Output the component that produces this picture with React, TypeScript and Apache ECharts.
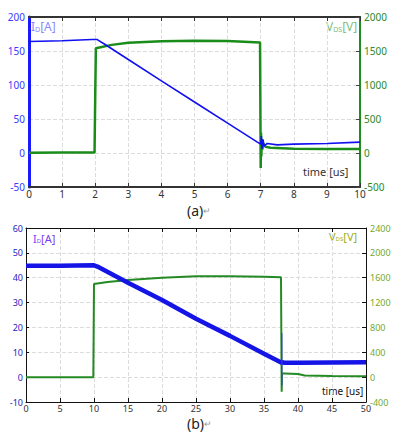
import React, { useEffect, useRef } from "react";
import * as echarts from "echarts";

// ---- Data: chart (a) ----
const xTicksA = { min: 0, max: 10, interval: 1 };
const tI_a = [0, 1, 1.9, 2.05, 2.3, 3, 4, 5, 6, 6.9, 7.0, 7.02, 7.04, 7.07, 7.1, 7.2, 7.5, 8, 9, 10];
const iD_a = [164, 165, 167, 167, 159.5, 137.5, 106, 75, 44, 16, 13, 25, 6, 20, 10, 14, 12, 13, 14, 16];
const tV_a = [0, 1, 1.98, 2.0, 2.02, 2.5, 3, 4, 5, 6, 6.98, 7.0, 7.01, 7.02, 7.03, 7.05, 7.08, 7.15, 7.3, 8, 9, 10];
const vDS_a = [5, 8, 6, 800, 1540, 1590, 1620, 1645, 1650, 1648, 1625, -220, 300, -50, 200, 50, 140, 90, 78, 62, 58, 58];

// ---- Data: chart (b) ----
const tI_b = [0, 5, 10, 10.5, 15, 20, 25, 30, 35, 37.6, 37.7, 38, 40, 45, 50];
const iD_b = [44.8, 44.8, 45, 44.5, 38, 31, 23.5, 16.6, 9.4, 5.8, 6, 5.8, 5.8, 5.9, 6];
const tSpike_b = [37.62, 37.62];
const iSpike_b = [17.8, -3.5];
const tV_b = [0, 5, 9.9, 10, 10.1, 12, 15, 20, 25, 30, 35, 37.5, 37.6, 37.65, 37.7, 38, 40, 41, 45, 50];
const vDS_b = [0, 0, 0, 1500, 1500, 1530, 1563, 1600, 1622, 1625, 1617, 1606, -234, 60, 62, 60, 50, 28, 18, 14];

const FONT = "Noto Sans";
const pairs = (t: number[], v: number[]) => t.map((x, i) => [x, v[i]]);
const plain = (v: number) => String(v);

export default function App() {
  const ref = useRef<HTMLDivElement>(null);
  useEffect(() => {
    const chart = echarts.init(ref.current!, null, { renderer: "svg" });
    const split = { show: true, lineStyle: { type: "dashed", color: "#dcdcdc", width: 1 } };
    const xBase = (grid: number, min: number, max: number, interval: number, lw: number, color: string, fs: number) => [
      {
        type: "value", gridIndex: grid, min, max, interval, position: "bottom",
        axisLine: { show: true, onZero: false, lineStyle: { color, width: lw } },
        axisTick: { show: true, inside: true, length: 4, lineStyle: { color } },
        axisLabel: { color: "#333", fontSize: fs, fontFamily: FONT, margin: 2, formatter: plain },
        splitLine: split,
      },
      {
        type: "value", gridIndex: grid, min, max, interval, position: "top",
        axisLine: { show: true, onZero: false, lineStyle: { color, width: lw } },
        axisTick: { show: true, inside: true, length: 4, lineStyle: { color } },
        axisLabel: { show: false },
        splitLine: { show: false },
      },
    ];
    chart.setOption({
      animation: false,
      grid: [
        { left: 29, right: 36, top: 17, height: 170 },
        { left: 26, right: 30, top: 228, height: 174 },
      ],
      xAxis: [
        ...xBase(0, xTicksA.min, xTicksA.max, xTicksA.interval, 2, "#333", 10),
        ...xBase(1, 0, 50, 5, 1, "#111", 9),
      ],
      yAxis: [
        {
          type: "value", gridIndex: 0, min: -50, max: 200, interval: 50, position: "left",
          axisLine: { show: true, onZero: false, lineStyle: { color: "#1a1aff", width: 3 } },
          axisTick: { show: false },
          axisLabel: { color: "#3b3bff", fontSize: 10, fontFamily: FONT, margin: 4, formatter: plain },
          splitLine: split,
        },
        {
          type: "value", gridIndex: 0, min: -500, max: 2000, interval: 500, position: "right",
          axisLine: { show: true, onZero: false, lineStyle: { color: "#1e8c1e", width: 2 } },
          axisTick: { show: true, inside: true, length: 4, lineStyle: { color: "#444" } },
          axisLabel: { color: "#2a8a2a", fontSize: 10, fontFamily: FONT, margin: 4, formatter: plain },
          splitLine: { show: false },
        },
        {
          type: "value", gridIndex: 1, min: -10, max: 60, interval: 10, position: "left",
          axisLine: { show: true, onZero: false, lineStyle: { color: "#111", width: 1 } },
          axisTick: { show: true, inside: true, length: 3, lineStyle: { color: "#111" } },
          axisLabel: { color: "#2323c0", fontSize: 9, fontFamily: FONT, margin: 3, formatter: plain },
          splitLine: split,
        },
        {
          type: "value", gridIndex: 1, min: -400, max: 2400, interval: 400, position: "right",
          axisLine: { show: true, onZero: false, lineStyle: { color: "#111", width: 1 } },
          axisTick: { show: true, inside: true, length: 4, lineStyle: { color: "#111" } },
          axisLabel: { color: "#72a830", fontSize: 9, fontFamily: FONT, margin: 4, formatter: plain },
          splitLine: { show: false },
        },
      ],
      series: [
        {
          type: "line", xAxisIndex: 0, yAxisIndex: 1, data: pairs(tV_a, vDS_a), showSymbol: false,
          lineStyle: { color: "#1a8c1a", width: 2.5 }, z: 2,
        },
        {
          type: "line", xAxisIndex: 0, yAxisIndex: 0, data: pairs(tI_a, iD_a), showSymbol: false,
          lineStyle: { color: "#1010f0", width: 1.6 }, z: 3,
        },
        {
          type: "line", xAxisIndex: 2, yAxisIndex: 3, data: pairs(tV_b, vDS_b), showSymbol: false,
          lineStyle: { color: "#248a24", width: 2 }, z: 2,
        },
        {
          type: "line", xAxisIndex: 2, yAxisIndex: 2, data: pairs(tI_b, iD_b), showSymbol: false,
          lineStyle: { color: "#1414e6", width: 4.5, join: "bevel" }, z: 3,
        },
        {
          type: "line", xAxisIndex: 2, yAxisIndex: 2, data: pairs(tSpike_b, iSpike_b), showSymbol: false,
          lineStyle: { color: "#3a3ae0", width: 1.2 }, z: 4,
        },
      ],
      graphic: [
        {
          type: "text", left: 31, top: 20,
          style: {
            text: "{a|I}{b|D}{a|[A]}",
            rich: {
              a: { fontSize: 12, fontFamily: FONT, fill: "#8a8aff" },
              b: { fontSize: 7, fontFamily: FONT, fill: "#8a8aff", verticalAlign: "bottom", padding: [6, 0, 0, 0] },
            },
          },
        },
        {
          type: "text", left: 326, top: 20,
          style: {
            text: "{a|V}{b|DS}{a|[V]}",
            rich: {
              a: { fontSize: 12, fontFamily: FONT, fill: "#7fc07f" },
              b: { fontSize: 7, fontFamily: FONT, fill: "#7fc07f", verticalAlign: "bottom", padding: [6, 0, 0, 0] },
            },
          },
        },
        {
          type: "text", left: 303, top: 166,
          style: { text: "time [us]", fontSize: 11, fontFamily: FONT, fill: "#333" },
        },
        {
          type: "text", left: 187, top: 203,
          style: {
            text: "{a|(a)}{b|↵}",
            rich: {
              a: { fontSize: 14, lineHeight: 15, fontFamily: FONT, fill: "#222" },
              b: { fontSize: 9, lineHeight: 15, fontFamily: FONT, fill: "#999" },
            },
          },
        },
        {
          type: "text", left: 33, top: 233,
          style: {
            text: "{a|I}{b|D}{a|[A]}",
            rich: {
              a: { fontSize: 11, fontFamily: FONT, fill: "#7a3cf0" },
              b: { fontSize: 6, fontFamily: FONT, fill: "#7a3cf0", verticalAlign: "bottom", padding: [5, 0, 0, 0] },
            },
          },
        },
        {
          type: "text", left: 329, top: 231,
          style: {
            text: "{a|V}{b|DS}{a|[V]}",
            rich: {
              a: { fontSize: 11, fontFamily: FONT, fill: "#9aae20" },
              b: { fontSize: 6, fontFamily: FONT, fill: "#9aae20", verticalAlign: "bottom", padding: [5, 0, 0, 0] },
            },
          },
        },
        {
          type: "text", left: 322, top: 386,
          style: { text: "time [us]", fontSize: 10, fontFamily: FONT, fill: "#111" },
        },
        {
          type: "text", left: 187, top: 416,
          style: {
            text: "{a|(b)}{b|↵}",
            rich: {
              a: { fontSize: 14, lineHeight: 15, fontFamily: FONT, fill: "#222" },
              b: { fontSize: 9, lineHeight: 15, fontFamily: FONT, fill: "#999" },
            },
          },
        },
      ],
    });
    return () => chart.dispose();
  }, []);
  return (
    <div
      ref={ref}
      style={{ position: "fixed", left: 0, top: 0, width: 396, height: 437, background: "#fff" }}
    />
  );
}
